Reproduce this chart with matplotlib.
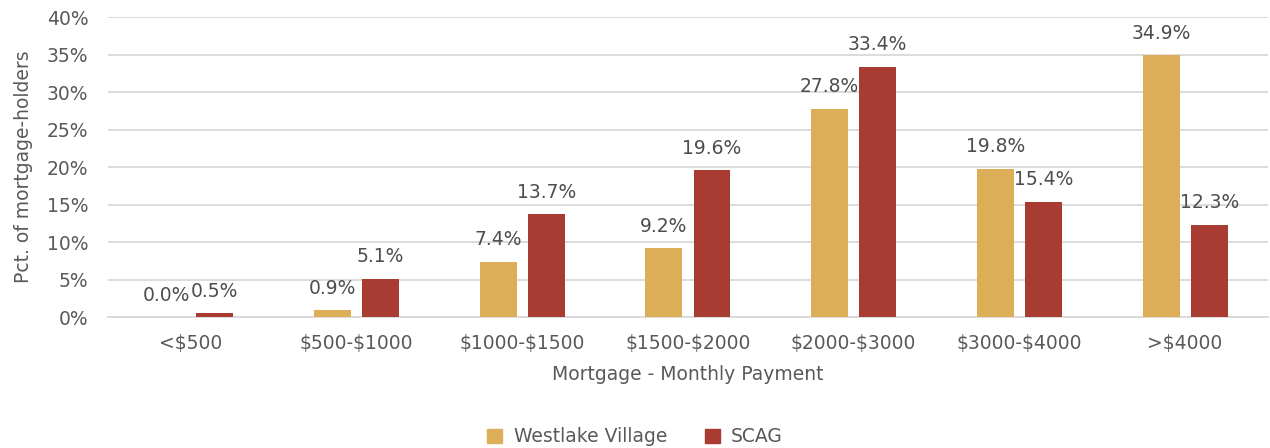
import matplotlib.pyplot as plt
import numpy as np
from matplotlib.patches import Patch

categories = ['<$500', '$500-$1000', '$1000-$1500', '$1500-$2000',
              '$2000-$3000', '$3000-$4000', '>$4000']
westlake = [0.0, 0.9, 7.4, 9.2, 27.8, 19.8, 34.9]
scag = [0.5, 5.1, 13.7, 19.6, 33.4, 15.4, 12.3]

GOLD = '#DCAE58'
RED = '#A93C32'
TEXT = '#595959'
GRID = '#D9D9D9'

plt.rcParams['font.family'] = ['DejaVu Sans']
plt.rcParams['text.parse_math'] = False

fig = plt.figure(figsize=(12.7, 4.48), dpi=100)
ax = fig.add_axes([0.085, 0.2924, 0.9134, 0.6696])

x = np.arange(len(categories))
width = 0.223
off = 0.145

b1 = ax.bar(x - off, westlake, width, color=GOLD, zorder=3)
b2 = ax.bar(x + off, scag, width, color=RED, zorder=3)

for bars, vals in ((b1, westlake), (b2, scag)):
    for rect, v in zip(bars, vals):
        ax.annotate(f'{v:.1f}%', (rect.get_x() + rect.get_width() / 2, v),
                    xytext=(0, 9), textcoords='offset points',
                    ha='center', va='bottom', fontsize=13.5, color='#4D4D4D')

ax.set_xlim(-0.5, len(categories) - 0.5)
ax.set_ylim(0, 40)
ax.set_yticks(np.arange(0, 41, 5))
ax.set_yticklabels([f'{t}%' for t in range(0, 41, 5)])
ax.set_xticks(x)
ax.set_xticklabels(categories)
ax.tick_params(axis='both', length=0, labelsize=13.5, labelcolor=TEXT)
ax.tick_params(axis='y', pad=14)
ax.tick_params(axis='x', pad=12)

ax.yaxis.grid(True, color=GRID, linewidth=1.3, zorder=0)
for s in ['top', 'right', 'left']:
    ax.spines[s].set_visible(False)
ax.spines['bottom'].set_color(GRID)
ax.spines['bottom'].set_linewidth(1.3)

ax.set_ylabel('Pct. of mortgage-holders', fontsize=13.5, color=TEXT, labelpad=10)
ax.set_xlabel('Mortgage - Monthly Payment', fontsize=13.5, color=TEXT, labelpad=9)

handles = [Patch(color=GOLD, label='Westlake Village'), Patch(color=RED, label='SCAG')]
leg = fig.legend(handles=handles, loc='center', bbox_to_anchor=(0.5, 0.025), ncol=2,
                 frameon=False, fontsize=13.5, handlelength=0.8, handleheight=0.8,
                 handletextpad=0.6, columnspacing=2.0)
for t in leg.get_texts():
    t.set_color(TEXT)

fig.savefig('out.png', dpi=100)
